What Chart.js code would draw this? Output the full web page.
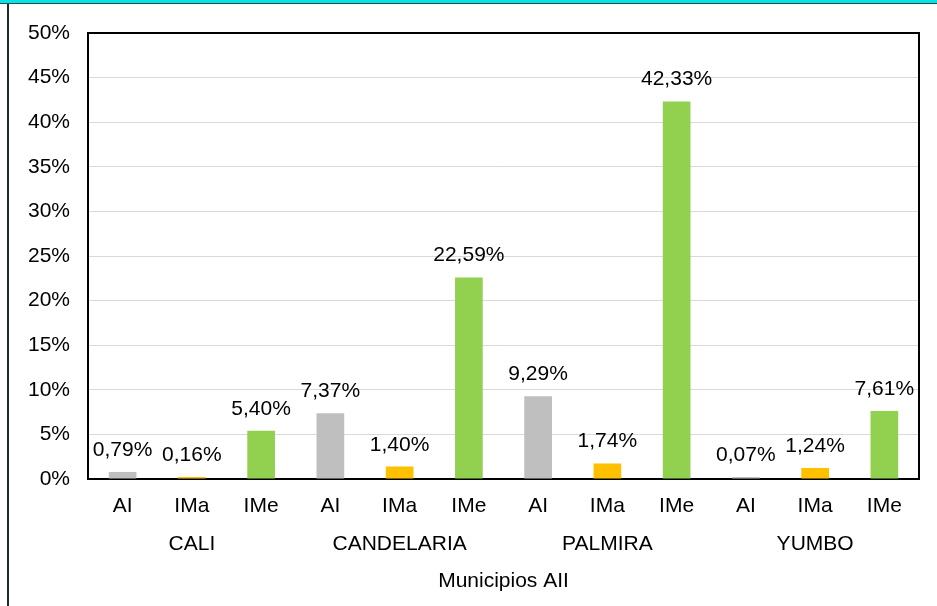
<!DOCTYPE html>
<html lang="es">
<head>
  <meta charset="UTF-8">
  <title>Municipios AII</title>
  <style>
    body { margin: 0; background: #fff; }
    canvas { display: block; }
  </style>
</head>
<body>

<canvas id="myChart" width="937" height="606"></canvas>

<script src="https://cdn.jsdelivr.net/npm/chart.js"></script>

<script>
  // datos
  const indicadores = ['AI', 'IMa', 'IMe', 'AI', 'IMa', 'IMe', 'AI', 'IMa', 'IMe', 'AI', 'IMa', 'IMe'];
  const municipios = ['CALI', 'CANDELARIA', 'PALMIRA', 'YUMBO'];
  const valores = [0.79, 0.16, 5.40, 7.37, 1.40, 22.59, 9.29, 1.74, 42.33, 0.07, 1.24, 7.61];
  const colores = ['#BFBFBF', '#FFC000', '#92D050'];
  const ticksY = [0, 5, 10, 15, 20, 25, 30, 35, 40, 45, 50];

  const fuente = { family: "'Liberation Sans', Arial, sans-serif", size: 21 };

  // marco de la imagen + borde del area de trazado
  const marco = {
    id: 'marco',
    beforeDraw(chart) {
      const c = chart.ctx;
      c.save();
      c.fillStyle = '#fff';
      c.fillRect(0, 0, chart.width, chart.height);
      c.fillStyle = '#00E5E5';
      c.fillRect(0, 0, chart.width, 3);
      c.fillStyle = '#444';
      c.fillRect(0, 3, chart.width, 1);
      c.fillStyle = '#1c2b2b';
      c.fillRect(7, 4, 2, chart.height - 4);
      c.restore();
    },
    beforeDatasetsDraw(chart) {
      // en el original las barras quedan encima de la linea del eje
      const a = chart.chartArea;
      const c = chart.ctx;
      c.save();
      c.strokeStyle = '#000';
      c.lineWidth = 2;
      c.strokeRect(a.left, a.top, a.right - a.left, a.bottom - a.top);
      c.restore();
    }
  };

  // etiquetas de datos encima de cada barra
  const etiquetas = {
    id: 'etiquetas',
    afterDraw(chart) {
      const c = chart.ctx;
      const meta = chart.getDatasetMeta(0);
      c.save();
      c.font = fuente.size + 'px ' + fuente.family;
      c.fillStyle = '#000';
      c.textAlign = 'center';
      c.textBaseline = 'alphabetic';
      meta.data.forEach((bar, i) => {
        const txt = valores[i].toFixed(2).replace('.', ',') + '%';
        c.fillText(txt, bar.x, bar.y - 16);
      });
      c.restore();
    }
  };

  const ctx = document.getElementById('myChart').getContext('2d');
  const myChart = new Chart(ctx, {
    type: 'bar',
    data: {
      labels: indicadores,
      datasets: [{
        data: valores,
        backgroundColor: valores.map((v, i) => colores[i % 3]),
        categoryPercentage: 1,
        barPercentage: 0.4,
        minBarLength: 2
      }]
    },
    options: {
      responsive: false,
      animation: false,
      devicePixelRatio: 1,
      layout: { padding: { top: 33, right: 18, left: 0, bottom: 0 } },
      plugins: {
        legend: { display: false },
        tooltip: { enabled: false }
      },
      scales: {
        y: {
          min: 0,
          max: 50,
          afterFit(s) { s.width = 88; },
          afterBuildTicks(s) { s.ticks = ticksY.map(v => ({ value: v })); },
          border: { display: false },
          grid: { color: '#D9D9D9', lineWidth: 1, drawTicks: false },
          ticks: {
            padding: 18,
            color: '#000',
            font: fuente,
            callback: v => v + '%'
          }
        },
        x: {
          weight: 0,
          afterFit(s) { s.height = 40; },
          border: { display: false },
          grid: { display: false, drawTicks: false },
          ticks: { padding: 15, color: '#000', font: fuente, maxRotation: 0, autoSkip: false }
        },
        x2: {
          type: 'category',
          position: 'bottom',
          weight: 1,
          labels: municipios,
          offset: true,
          afterFit(s) { s.height = 87; },
          border: { display: false },
          grid: { display: false, drawTicks: false },
          ticks: { padding: 13, color: '#000', font: fuente, maxRotation: 0, autoSkip: false },
          title: {
            display: true,
            text: 'Municipios AII',
            color: '#000',
            font: fuente,
            padding: { top: 0, bottom: 12 }
          }
        }
      }
    },
    plugins: [marco, etiquetas]
  });
</script>
</body>
</html>
